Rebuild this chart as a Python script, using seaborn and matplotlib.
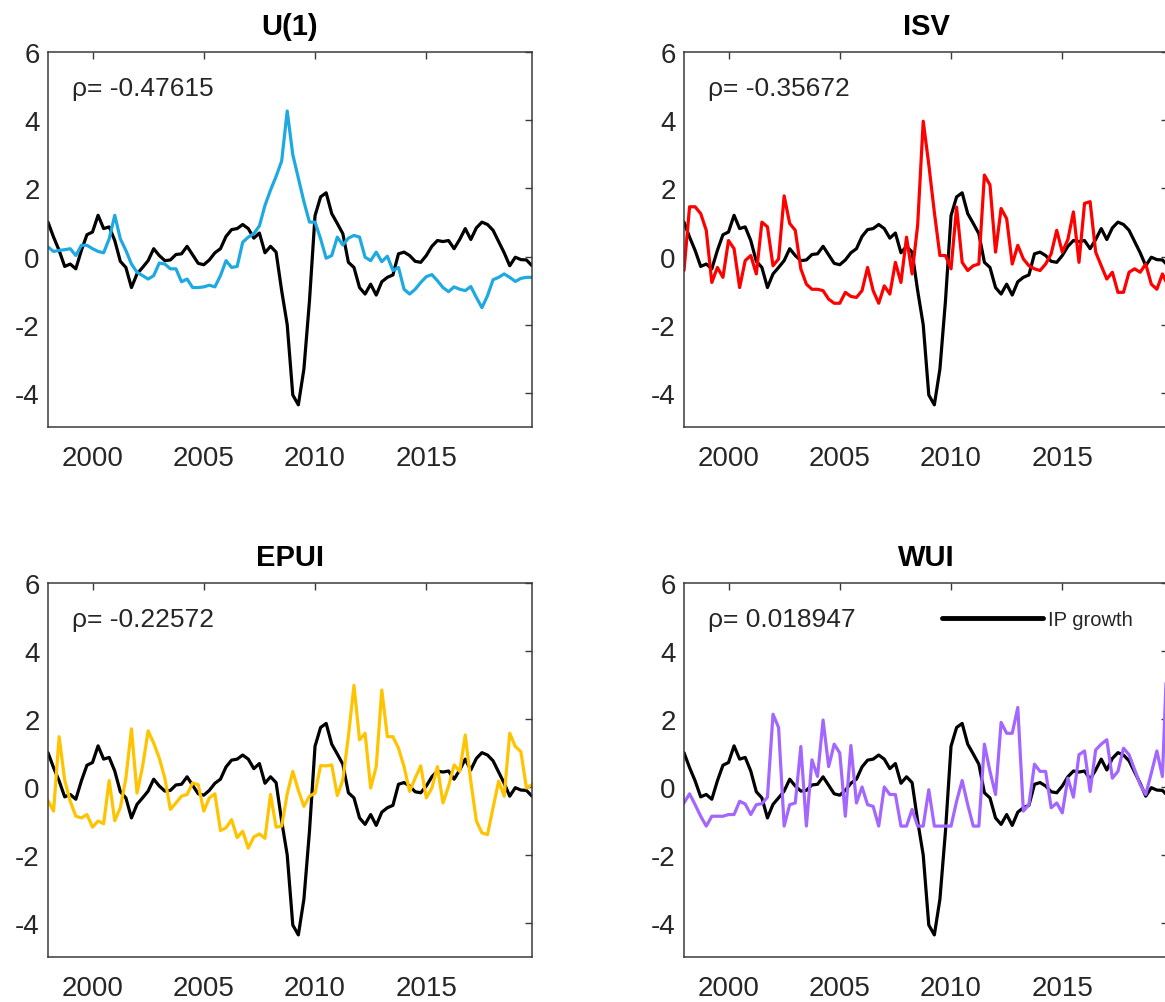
import numpy as np
import pandas as pd
import matplotlib
matplotlib.use("Agg")
import matplotlib.pyplot as plt
import seaborn as sns

# ---------------- data (quarterly, 1998Q1 - 2019Q4) ----------------
start_year = 1998
n_quarters = 88
quarters = start_year + np.arange(n_quarters) / 4.0

ip_growth = [1.01, 0.57, 0.18, -0.29, -0.22, -0.36, 0.18, 0.64, 0.72, 1.21,
             0.82, 0.87, 0.47, -0.14, -0.32, -0.91, -0.51, -0.32, -0.12, 0.23,
             0.03, -0.12, -0.10, 0.06, 0.08, 0.30, 0.05, -0.20, -0.24, -0.10,
             0.11, 0.23, 0.59, 0.79, 0.82, 0.94, 0.82, 0.54, 0.69, 0.11,
             0.30, 0.13, -1.00, -2.00, -4.06, -4.35, -3.30, -1.30, 1.20, 1.75,
             1.87, 1.26, 0.97, 0.67, -0.17, -0.32, -0.91, -1.10, -0.81, -1.13,
             -0.74, -0.61, -0.54, 0.08, 0.13, 0.03, -0.14, -0.17, 0.03, 0.30,
             0.47, 0.44, 0.47, 0.23, 0.50, 0.82, 0.50, 0.84, 1.01, 0.94,
             0.77, 0.44, 0.11, -0.27, -0.02, -0.09, -0.10, -0.27]

u1 = [0.28, 0.15, 0.18, 0.20, 0.23, 0.03, 0.33, 0.33, 0.23, 0.15,
      0.11, 0.52, 1.21, 0.52, 0.18, -0.22, -0.46, -0.56, -0.66, -0.56,
      -0.19, -0.22, -0.36, -0.36, -0.74, -0.66, -0.91, -0.91, -0.89, -0.84,
      -0.89, -0.56, -0.12, -0.32, -0.29, 0.42, 0.57, 0.67, 0.90, 1.50,
      1.95, 2.35, 2.80, 4.27, 2.99, 2.30, 1.61, 1.01, 1.01, 0.52,
      -0.05, 0.03, 0.57, 0.34, 0.54, 0.62, 0.57, -0.02, -0.12, 0.13,
      -0.15, 0.01, -0.41, -0.32, -0.96, -1.10, -0.96, -0.76, -0.59, -0.53,
      -0.71, -0.91, -1.03, -0.89, -0.96, -1.00, -0.88, -1.20, -1.50, -1.15,
      -0.68, -0.61, -0.51, -0.61, -0.73, -0.64, -0.61, -0.61]

isv = [-0.41, 1.46, 1.46, 1.26, 0.77, -0.76, -0.32, -0.61, 0.47, 0.23,
       -0.91, -0.12, 0.03, -0.51, 1.01, 0.87, -0.27, -0.07, 1.78, 0.97,
       0.77, -0.36, -0.81, -0.96, -0.96, -1.00, -1.25, -1.37, -1.37, -1.05,
       -1.17, -1.20, -1.00, -0.32, -1.00, -1.37, -0.86, -1.10, -0.17, -0.76,
       0.57, -0.51, 0.92, 3.97, 2.70, 1.30, 0.03, 0.03, -0.36, 1.45,
       -0.17, -0.41, -0.27, -0.22, 2.39, 2.10, 0.13, 1.41, 1.11, -0.22,
       0.33, -0.07, -0.27, -0.36, -0.41, -0.22, 0.08, 0.77, 0.13, 0.50,
       1.31, -0.17, 1.56, 1.61, 0.13, -0.27, -0.66, -0.46, -1.05, -1.05,
       -0.46, -0.36, -0.46, -0.22, -0.81, -0.96, -0.51, -0.86]

epui = [-0.40, -0.71, 1.48, 0.20, -0.42, -0.86, -0.91, -0.81, -1.18, -1.00,
        -1.08, 0.19, -0.99, -0.61, 0.26, 1.71, -0.18, 0.60, 1.65, 1.29,
        0.85, 0.26, -0.66, -0.47, -0.27, -0.22, 0.12, 0.07, -0.71, -0.32,
        -0.20, -1.28, -1.20, -0.96, -1.49, -1.30, -1.80, -1.47, -1.38, -1.51,
        -0.22, -1.18, -1.15, -0.20, 0.46, -0.10, -0.57, -0.27, -0.18, 0.63,
        0.62, 0.65, -0.25, 0.21, 1.50, 2.99, 1.39, 1.58, -0.03, 0.60,
        2.85, 1.48, 1.48, 1.14, 0.60, -0.13, 0.26, 0.62, -0.32, -0.03,
        0.60, -0.47, 0.02, 0.65, 0.46, 1.53, 0.17, -1.00, -1.35, -1.40,
        -0.61, 0.17, -0.27, 1.58, 1.19, 1.04, -0.03, 0.07]

wui = [-0.47, -0.20, -0.52, -0.86, -1.15, -0.86, -0.86, -0.86, -0.81, -0.81,
       -0.42, -0.50, -0.81, -0.52, -0.49, -0.30, 2.14, 1.75, -1.15, -0.52,
       -0.47, 1.19, -1.15, 0.80, 0.31, 1.97, 0.60, 1.26, 1.00, -0.86,
       1.22, -0.47, 0.00, -0.52, -0.57, -1.15, 0.00, -0.22, -0.22, -1.15,
       -1.15, -0.66, -1.15, -1.15, -0.08, -1.15, -1.15, -1.15, -1.15, -0.42,
       0.19, -0.52, -1.15, -1.15, 1.26, 0.46, -0.22, 1.90, 1.58, 1.58,
       2.34, -0.71, -0.52, 0.67, 0.46, 0.46, -0.61, -0.47, -0.76, 0.26,
       -0.30, 0.95, 1.06, -0.13, 1.09, 1.26, 1.39, 0.26, 0.46, 1.14,
       0.95, 0.51, 0.07, -0.22, 0.41, 1.06, 0.31, 4.60]

titles = ["U(1)", "ISV", "EPUI", "WUI"]
rho_labels = ["\u03c1= -0.47615", "\u03c1= -0.35672", "\u03c1= -0.22572", "\u03c1= 0.018947"]
series = [u1, isv, epui, wui]
colors = ["#1FA9E1", "#FF0000", "#FFC300", "#A366FF"]
x_ticks = [2000, 2005, 2010, 2015]
y_ticks = [-4, -2, 0, 2, 4, 6]

# ---------------- styling ----------------
sns.set_theme(style="white")
plt.rcParams["font.family"] = ["Liberation Sans", "DejaVu Sans"]

W, H = 1165, 1003
fig = plt.figure(figsize=(W / 100, H / 100), dpi=100)
fig.patch.set_facecolor("white")

# axes boxes in pixels: left, top, right, bottom
boxes = [(48, 53, 532, 428), (684, 53, 1168, 428),
         (48, 584, 532, 958), (684, 584, 1168, 958)]

axis_col = "#3a3a3a"
text_col = "#262626"

for k, (l, t, r, b) in enumerate(boxes):
    ax = fig.add_axes([l / W, 1 - b / H, (r - l) / W, (b - t) / H])
    ax.set_facecolor("white")
    sns.lineplot(x=quarters, y=ip_growth, color="black", linewidth=2.3,
                 ax=ax, legend=False)
    sns.lineplot(x=quarters, y=series[k], color=colors[k], linewidth=2.3,
                 ax=ax, legend=False)
    ax.set_xlim(1998, 2019.75)
    ax.set_ylim(-5, 6)
    ax.set_xticks(x_ticks)
    ax.set_xticklabels([str(v) for v in x_ticks])
    ax.set_yticks(y_ticks)
    ax.set_yticklabels([str(v) for v in y_ticks])
    ax.set_xlabel("")
    ax.set_ylabel("")
    for sp in ax.spines.values():
        sp.set_visible(True)
        sp.set_color(axis_col)
        sp.set_linewidth(1.1)
    ax.tick_params(direction="in", length=5, width=1, colors=axis_col,
                   top=True, right=True, labelcolor=text_col, labelsize=20)
    ax.tick_params(axis="x", pad=13)
    ax.tick_params(axis="y", pad=6)
    ax.set_title(titles[k], fontsize=21, fontweight="bold", color="black", pad=13)
    ax.text(0.05, 0.905, rho_labels[k], transform=ax.transAxes,
            fontsize=19, color=text_col, ha="left", va="center")
    if k == 3:
        line = ax.get_lines()[0]
        leg = ax.legend([line], ["IP growth"], loc="center left",
                        bbox_to_anchor=(0.533, 0.902), frameon=False,
                        fontsize=14.5, handlelength=5.0, handletextpad=0.25,
                        borderaxespad=0, borderpad=0)
        for lh in leg.get_lines():
            lh.set_linewidth(3.5)
        for tx in leg.get_texts():
            tx.set_color(text_col)

fig.savefig("out.png", dpi=100, facecolor="white")
